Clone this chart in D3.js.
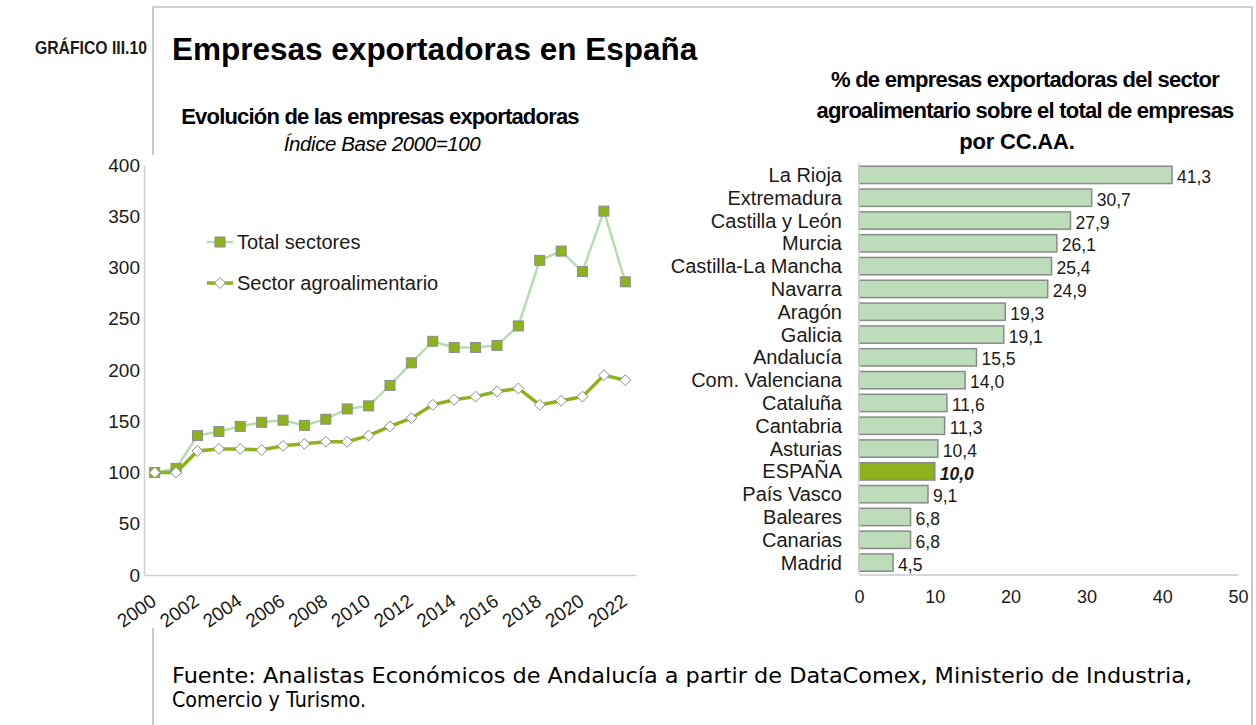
<!DOCTYPE html>
<html>
<head>
<meta charset="utf-8">
<script src="https://cdn.jsdelivr.net/npm/d3@7/dist/d3.min.js"></script>
<style>
  body { margin: 0; background: #fff; }
  svg { display: block; font-family: "Liberation Sans", Arial, sans-serif; }
</style>
</head>
<body>
<svg id="chart" width="1256" height="725"></svg>
<script>
// ---- Data: evolution of exporting companies (index 2000 = 100) ----
const years = ["2000","2001","2002","2003","2004","2005","2006","2007","2008","2009","2010",
               "2011","2012","2013","2014","2015","2016","2017","2018","2019","2020","2021","2022"];
const totalSectores = [100,104,136,140,145,149,151,146,152,162,165,185,207,228,222,222,224,243,307,316,296,355,286];
const sectorAgro    = [100,100,121,123,123,122,126,128,130,130,136,145,153,166,171,174,179,182,166,170,174,195,190];
const yearTickLabels = ["2000","2002","2004","2006","2008","2010","2012","2014","2016","2018","2020","2022"];
const indexTicks = [0,50,100,150,200,250,300,350,400];

// ---- Data: % of agri-food exporting companies by region ----
const regions = ["La Rioja","Extremadura","Castilla y León","Murcia","Castilla-La Mancha","Navarra",
                 "Aragón","Galicia","Andalucía","Com. Valenciana","Cataluña","Cantabria","Asturias",
                 "ESPAÑA","País Vasco","Baleares","Canarias","Madrid"];
const shares = [41.3,30.7,27.9,26.1,25.4,24.9,19.3,19.1,15.5,14.0,11.6,11.3,10.4,10.0,9.1,6.8,6.8,4.5];
const shareTicks = [0,10,20,30,40,50];

const svg = d3.select("#chart");
const fmt = v => d3.format(".1f")(v).replace(".", ",");

// ---- Frame and headings ----
const frame = svg.append("g").attr("stroke", "#a6a6a6").attr("stroke-width", 1.2).attr("fill", "none");
frame.append("path").attr("d", "M153,155V7H1252V725");
frame.append("path").attr("d", "M153,628V725");

svg.append("text").attr("x", 35).attr("y", 54)
  .attr("font-size", 18).attr("font-weight", "bold").attr("fill", "#1a1a1a")
  .attr("textLength", 112).attr("lengthAdjust", "spacingAndGlyphs")
  .text("GRÁFICO III.10");

svg.append("text").attr("x", 172).attr("y", 60)
  .attr("font-size", 31.5).attr("font-weight", "bold").attr("fill", "#000")
  .text("Empresas exportadoras en España");

// ---- Line chart ----
const gL = svg.append("g");
const x = d3.scaleBand().domain(years).range([144, 636]);
const y = d3.scaleLinear().domain([0, 400]).range([575, 165]);
const cx = d => x(d) + x.bandwidth() / 2;

gL.append("text").attr("x", 380).attr("y", 124).attr("text-anchor", "middle")
  .attr("font-size", 22).attr("font-weight", "bold").attr("letter-spacing", -0.8)
  .text("Evolución de las empresas exportadoras");
gL.append("text").attr("x", 382).attr("y", 151).attr("text-anchor", "middle")
  .attr("font-size", 20.5).attr("font-style", "italic").attr("letter-spacing", -0.4)
  .text("Índice Base 2000=100");

// y axis labels (no ticks, only the axis line)
const yAxis = gL.append("g").attr("transform", "translate(144,0)")
  .call(d3.axisLeft(y).tickValues(indexTicks).tickSize(0).tickPadding(4));
yAxis.select(".domain").attr("stroke", "#d0d0d0").attr("stroke-width", 1.5);
yAxis.selectAll("text").attr("font-size", 19).attr("fill", "#1a1a1a")
  .attr("font-family", "Liberation Sans, Arial, sans-serif");

// x axis line
const xAxis = gL.append("g").attr("transform", "translate(0,575)")
  .call(d3.axisBottom(x).tickValues([]).tickSize(0));
xAxis.select(".domain").attr("stroke", "#d0d0d0").attr("stroke-width", 1.5);

// rotated year labels
gL.append("g").selectAll("text").data(yearTickLabels).join("text")
  .attr("transform", d => `translate(${cx(d) + 3},${604}) rotate(-35)`)
  .attr("text-anchor", "end").attr("font-size", 19).attr("fill", "#1a1a1a")
  .text(d => d);

const line = d3.line().x((d, i) => cx(years[i])).y(d => y(d));

gL.append("path").datum(totalSectores).attr("d", line)
  .attr("fill", "none").attr("stroke", "#b8dbb4").attr("stroke-width", 2.5);
gL.append("path").datum(sectorAgro).attr("d", line)
  .attr("fill", "none").attr("stroke", "#8db21c").attr("stroke-width", 3.5);

const sq = 10;
gL.append("g").selectAll("rect").data(totalSectores).join("rect")
  .attr("x", (d, i) => cx(years[i]) - sq / 2).attr("y", d => y(d) - sq / 2)
  .attr("width", sq).attr("height", sq)
  .attr("fill", "#8db21c").attr("stroke", "#8c8c8c").attr("stroke-width", 1);

const diamond = d3.symbol().type(d3.symbolDiamond2).size(75);
gL.append("g").selectAll("path").data(sectorAgro).join("path")
  .attr("transform", (d, i) => `translate(${cx(years[i])},${y(d)})`)
  .attr("d", diamond)
  .attr("fill", "#fff").attr("stroke", "#8c8c8c").attr("stroke-width", 1);

// legend
const legend = [
  { name: "Total sectores", color: "#b8dbb4", w: 2.5, marker: "square", y: 242 },
  { name: "Sector agroalimentario", color: "#8db21c", w: 3.5, marker: "diamond", y: 283 }
];
const lg = gL.append("g").selectAll("g").data(legend).join("g")
  .attr("transform", d => `translate(207,${d.y})`);
lg.append("line").attr("x1", 0).attr("x2", 26)
  .attr("stroke", d => d.color).attr("stroke-width", d => d.w);
lg.filter(d => d.marker === "square").append("rect")
  .attr("x", 13 - sq / 2).attr("y", -sq / 2).attr("width", sq).attr("height", sq)
  .attr("fill", "#8db21c").attr("stroke", "#8c8c8c");
lg.filter(d => d.marker === "diamond").append("path")
  .attr("transform", "translate(13,0)").attr("d", diamond)
  .attr("fill", "#fff").attr("stroke", "#8c8c8c");
lg.append("text").attr("x", 30).attr("dy", "0.35em")
  .attr("font-size", 20).attr("fill", "#1a1a1a").text(d => d.name);

// ---- Bar chart ----
const gB = svg.append("g");
const bx = d3.scaleLinear().domain([0, 50]).range([859, 1238]);
const by = d3.scaleBand().domain(regions).range([163.5, 574]).paddingInner(0.24).paddingOuter(0.12);

const titleLines = [
  { t: "% de empresas exportadoras del sector", y: 87, x: 1025, ls: -0.75 },
  { t: "agroalimentario sobre el total de empresas", y: 118, x: 1025, ls: -0.75 },
  { t: "por CC.AA.", y: 149, x: 1017, ls: -0.2 }
];
gB.append("g").selectAll("text").data(titleLines).join("text")
  .attr("x", d => d.x).attr("y", d => d.y).attr("text-anchor", "middle")
  .attr("font-size", 22).attr("font-weight", "bold").attr("letter-spacing", d => d.ls)
  .text(d => d.t);

gB.selectAll("rect.bar").data(regions).join("rect").attr("class", "bar")
  .attr("x", bx(0)).attr("y", d => by(d))
  .attr("width", (d, i) => bx(shares[i]) - bx(0)).attr("height", by.bandwidth())
  .attr("fill", d => d === "ESPAÑA" ? "#8db21c" : "#bcdcba")
  .attr("stroke", "#8a8a8a").attr("stroke-width", 1.5);

// category labels
gB.append("g").selectAll("text").data(regions).join("text")
  .attr("x", 842).attr("y", d => by(d) + by.bandwidth() / 2).attr("dy", "0.35em")
  .attr("text-anchor", "end").attr("font-size", 20).attr("fill", "#1a1a1a")
  .text(d => d);

// value labels
gB.append("g").selectAll("text").data(regions).join("text")
  .attr("x", (d, i) => bx(shares[i]) + 5).attr("y", d => by(d) + by.bandwidth() / 2 + 2).attr("dy", "0.35em")
  .attr("font-size", 17.5).attr("fill", "#1a1a1a")
  .attr("font-weight", d => d === "ESPAÑA" ? "bold" : null)
  .attr("font-style", d => d === "ESPAÑA" ? "italic" : null)
  .text((d, i) => fmt(shares[i]));

// axes
const bAxisX = gB.append("g").attr("transform", "translate(0,574.5)")
  .call(d3.axisBottom(bx).tickValues(shareTicks).tickSize(0).tickPadding(16).tickFormat(d3.format("d")));
bAxisX.select(".domain").attr("stroke", "#c8c8c8").attr("stroke-width", 1.5);
bAxisX.selectAll("text").attr("font-size", 18).attr("fill", "#1a1a1a")
  .attr("font-family", "Liberation Sans, Arial, sans-serif");

gB.append("line").attr("x1", bx(0)).attr("x2", bx(0)).attr("y1", 163).attr("y2", 574.5)
  .attr("stroke", "#d6d6d6").attr("stroke-width", 1.5);

// ---- Source (narrow sans, each line squeezed to its width) ----
const srcLines = [
  { t: "Fuente: Analistas Económicos de Andalucía a partir de DataComex, Ministerio de Industria,", w: 1020, y: 683 },
  { t: "Comercio y Turismo.", w: 194, y: 707 }
];
svg.append("g").attr("font-family", "DejaVu Sans, sans-serif").attr("font-size", 21).attr("fill", "#000")
  .selectAll("text").data(srcLines).join("text")
  .attr("x", 172).attr("y", d => d.y)
  .attr("textLength", d => d.w).attr("lengthAdjust", "spacingAndGlyphs")
  .text(d => d.t);
</script>
</body>
</html>
